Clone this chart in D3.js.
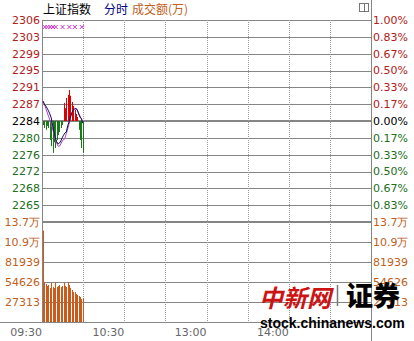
<!DOCTYPE html>
<html><head><meta charset="utf-8">
<script src="https://cdn.jsdelivr.net/npm/d3@7"></script>
<style>body{margin:0;background:#fff}svg{display:block}</style>
</head><body><svg id="c" width="414" height="341"></svg>
<script>
// ---- data ----
const prevClose = 2283.6;
const pctLevels = [1.00, 0.833, 0.667, 0.50, 0.333, 0.167, 0, -0.167, -0.333, -0.50, -0.667, -0.833, -1.00];
const priceTickLabels = ["2306","2303","2299","2295","2291","2287","2284","2280","2276","2272","2268","2265"];
const pctTickLabels = ["1.00%","0.83%","0.67%","0.50%","0.33%","0.17%","0.00%","0.17%","0.33%","0.50%","0.67%","0.83%"];
const volTickValues = [136565, 109252, 81939, 54626, 27313];
const volTickLabels = ["13.7万","10.9万","81939","54626","27313"];
const timeLabels = ["09:30","10:30","13:00","14:00"];
const timeLabelMinutes = [0, 60, 120, 180];
const gridMinutes = [30, 60, 90, 120, 150, 180, 210];
const minutes = [0,1,2,3,4,5,6,7,8,9,10,11,12,13,14,15,16,17,18,19,20,21,22,23,24,25,26,27,28,29];
const price = [2288.1,2287.4,2287.0,2286.5,2285.9,2285.2,2284.3,2282.7,2281.1,2279.8,2278.9,2278.4,2278.6,2279.1,2279.8,2280.4,2280.9,2281.1,2282.5,2283.4,2284.5,2285.4,2286.1,2286.3,2286.5,2286.1,2285.2,2284.5,2284.1,2283.1];
const avgPrice = [2288.1,2287.4,2286.5,2285.6,2284.7,2283.8,2282.9,2281.8,2280.7,2279.5,2278.6,2277.9,2277.9,2278.4,2279.1,2279.3,2279.8,2280.7,2281.8,2282.9,2284.3,2285.4,2286.1,2286.3,2286.3,2286.1,2285.4,2284.7,2284.1,2283.6];
const strength = [2282.7,2282.0,2281.6,2282.5,2282.0,2279.3,2277.9,2276.4,2278.8,2277.5,2279.3,2280.4,2281.1,2282.0,2282.7,2287.7,2286.5,2288.8,2289.5,2290.6,2289.3,2287.9,2287.0,2286.1,2285.2,2284.5,2281.6,2279.3,2277.5,2276.4];
const volume = [124684,54626,51895,49163,50529,46432,53260,47798,46432,54626,47798,49163,50529,47798,49163,53260,49163,47798,54626,50529,46432,43701,40970,40970,38238,36873,35507,34141,31410,32776];
const markerMinutes = [2,4,6,8,10,15,20,24,29];

// ---- scales ----
const svg = d3.select("#c");
const x = d3.scaleLinear([0, 240], [42, 371]);
const yPct = d3.scaleLinear([-1, 1], [222, 20]);
const yPrice = d3.scaleLinear([prevClose * 0.99, prevClose * 1.01], [222, 20]);
const yVol = d3.scaleLinear([0, 136565], [322, 222]);
const crisp = v => Math.round(v) + 0.5;

const GRID = "#858585", RED = "#b02020", GREEN = "#207020", ORANGE = "#c0601c";
const numFont = "'DejaVu Sans', Verdana, sans-serif";
const cjkFont = "'Noto Sans CJK SC', sans-serif";

// ---- grid ----
const g = svg.append("g");
pctLevels.forEach(p => {
  const thick = (p === 0 || p === -1);
  g.append("line").attr("x1", 42).attr("x2", 371)
    .attr("y1", thick ? Math.round(yPct(p)) : crisp(yPct(p)))
    .attr("y2", thick ? Math.round(yPct(p)) : crisp(yPct(p)))
    .attr("stroke", GRID).attr("stroke-width", thick ? 2 : 1);
});
volTickValues.slice(1).forEach(v => {
  g.append("line").attr("x1", 42).attr("x2", 371)
    .attr("y1", crisp(yVol(v))).attr("y2", crisp(yVol(v)))
    .attr("stroke", GRID).attr("stroke-width", 1);
});
g.append("line").attr("x1", 0).attr("x2", 371)
  .attr("y1", crisp(yVol(0))).attr("y2", crisp(yVol(0)))
  .attr("stroke", GRID);
gridMinutes.forEach(m => {
  g.append("line").attr("x1", crisp(x(m))).attr("x2", crisp(x(m)))
    .attr("y1", 20).attr("y2", yVol(0))
    .attr("stroke", "#999").attr("stroke-dasharray", "1,1");
});
g.append("line").attr("x1", crisp(x(0))).attr("x2", crisp(x(0)))
  .attr("y1", 20).attr("y2", yVol(0) + 1).attr("stroke", GRID);
g.append("line").attr("x1", crisp(x(240))).attr("x2", crisp(x(240)))
  .attr("y1", 0).attr("y2", 341).attr("stroke", GRID);

// ---- strength bars ----
svg.append("g").selectAll("line").data(strength).join("line")
  .attr("x1", (d, i) => Math.round(x(minutes[i])) + 1.5)
  .attr("x2", (d, i) => Math.round(x(minutes[i])) + 1.5)
  .attr("y1", yPrice(prevClose))
  .attr("y2", d => yPrice(d))
  .attr("stroke", d => d >= prevClose ? "#dd0000" : "#1a7a1a")
  .attr("stroke-width", 1);

// ---- volume bars ----
svg.append("g").selectAll("rect").data(volume).join("rect")
  .attr("x", (d, i) => Math.round(x(minutes[i])) + 1)
  .attr("width", 1)
  .attr("y", d => yVol(d))
  .attr("height", d => yVol(0) - yVol(d))
  .attr("fill", "#cc5a1a");

// ---- lines ----
const line = d3.line().x((d, i) => x(minutes[i]) + 1).y(d => yPrice(d));
svg.append("path").datum(avgPrice).attr("d", line)
  .attr("fill", "none").attr("stroke", "#b040d0").attr("stroke-width", 1);
svg.append("path").datum(price).attr("d", line)
  .attr("fill", "none").attr("stroke", "#10104a").attr("stroke-width", 1);

// ---- markers ----
const mk = svg.append("g").attr("stroke", "#cc33cc").attr("stroke-width", 1);
markerMinutes.forEach(m => {
  const cx = x(m);
  mk.append("line").attr("x1", cx - 2).attr("x2", cx + 2).attr("y1", 25).attr("y2", 29);
  mk.append("line").attr("x1", cx - 2).attr("x2", cx + 2).attr("y1", 29).attr("y2", 25);
});

// ---- axis labels ----
const lab = svg.append("g").attr("font-family", numFont).attr("font-size", 11);
priceTickLabels.forEach((t, i) => {
  const p = pctLevels[i];
  const col = p > 0 ? RED : (p < 0 ? GREEN : "#000");
  lab.append("text").attr("x", 40).attr("y", yPct(p)).attr("dy", "0.36em")
    .attr("text-anchor", "end").attr("fill", col).text(t);
  lab.append("text").attr("x", 373).attr("y", yPct(p)).attr("dy", "0.36em")
    .attr("fill", col).text(pctTickLabels[i]);
});
volTickLabels.forEach((t, i) => {
  const y = yVol(volTickValues[i]);
  lab.append("text").attr("x", 40).attr("y", y).attr("dy", "0.36em")
    .attr("text-anchor", "end").attr("fill", ORANGE).text(t);
  lab.append("text").attr("x", 373).attr("y", y).attr("dy", "0.36em")
    .attr("fill", ORANGE).text(t);
});
timeLabels.forEach((t, i) => {
  lab.append("text").attr("x", x(timeLabelMinutes[i])).attr("y", 336)
    .attr("text-anchor", "end").attr("fill", "#666").text(t);
});

// ---- title ----
const tt = svg.append("text").attr("y", 14).attr("font-family", cjkFont).attr("font-size", 12);
tt.append("tspan").attr("x", 43).attr("fill", "#000").text("上证指数");
tt.append("tspan").attr("x", 104).attr("fill", "#000080").text("分时");
tt.append("tspan").attr("x", 132).attr("fill", ORANGE).text("成交额(万)");

svg.append("rect").attr("x", 359.5).attr("y", 3.5).attr("width", 9).attr("height", 8)
  .attr("fill", "#fff").attr("stroke", "#777");
svg.append("line").attr("x1", 364.5).attr("x2", 364.5).attr("y1", 3.5).attr("y2", 11.5).attr("stroke", "#777");

// ---- watermark ----
svg.append("text").attr("x", 259).attr("y", 307)
  .attr("font-family", cjkFont).attr("font-weight", 700).attr("font-size", 24)
  .attr("fill", "#cc1414").attr("font-style", "italic").text("中新网");
svg.append("line").attr("x1", 337.5).attr("x2", 337.5).attr("y1", 285).attr("y2", 306)
  .attr("stroke", "#777").attr("stroke-width", 1.5);
svg.append("text").attr("x", 346).attr("y", 306)
  .attr("font-family", cjkFont).attr("font-weight", 900).attr("font-size", 27)
  .attr("fill", "#000").text("证券");
svg.append("text").attr("x", 260).attr("y", 328)
  .attr("font-family", "'Liberation Sans', Arial, sans-serif").attr("font-weight", 700)
  .attr("font-size", 14).attr("fill", "#000").text("stock.chinanews.com");
</script></body></html>
